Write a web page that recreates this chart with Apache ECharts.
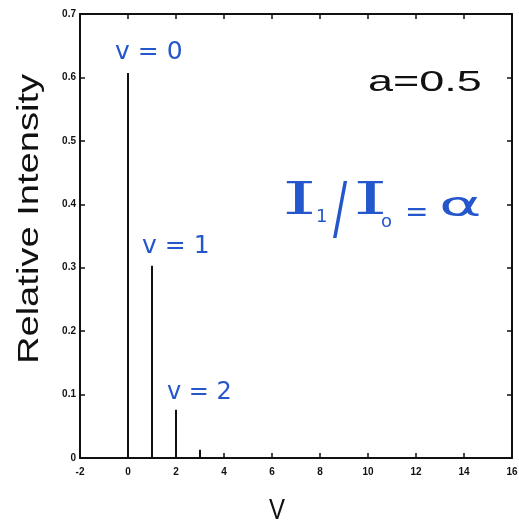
<!DOCTYPE html>
<html><head><meta charset="utf-8">
<script src="https://cdn.jsdelivr.net/npm/echarts@6/dist/echarts.min.js"></script>
<style>html,body{margin:0;padding:0;background:#fff}#c{width:519px;height:524px}</style>
</head><body><div id="c"></div>
<script>
const vibLevels = [0, 1, 2, 3, 4];
const intensities = [0.607, 0.303, 0.076, 0.013, 0.002];
const xTicks = [-2, 0, 2, 4, 6, 8, 10, 12, 14, 16];
const yTicks = [0, 0.1, 0.2, 0.3, 0.4, 0.5, 0.6, 0.7];
const levelLabels = ['v = 0', 'v = 1', 'v = 2'];

const chart = echarts.init(document.getElementById('c'), null, {renderer: 'canvas'});
const axisCommon = {
  axisLine: {show: true, onZero: false, lineStyle: {color: '#111', width: 2}},
  axisTick: {show: true, inside: true, length: 5, lineStyle: {color: '#111', width: 1.5}},
  splitLine: {show: false}
};
const labelStyle = {color: '#111', fontFamily: 'Liberation Sans', fontWeight: 'bold', fontSize: 10};
const blue = '#2456cc';
function hand(text, left, top, size, extra, family) {
  return Object.assign({type: 'text', left: left, top: top, style: {
    text: text, fontFamily: family || 'DejaVu Sans', fontSize: size, fill: blue}}, extra || {});
}

chart.setOption({
  animation: false,
  backgroundColor: '#fff',
  grid: {left: 80, right: 7, top: 14, bottom: 66, outerBoundsMode: 'none', containLabel: false},
  xAxis: [
    Object.assign({type: 'value', min: xTicks[0], max: xTicks[xTicks.length - 1], interval: 2, position: 'bottom',
      axisLabel: Object.assign({margin: 9}, labelStyle)}, axisCommon),
    Object.assign({type: 'value', min: xTicks[0], max: xTicks[xTicks.length - 1], interval: 2, position: 'top',
      axisLabel: {show: false}}, axisCommon)
  ],
  yAxis: [
    Object.assign({type: 'value', min: yTicks[0], max: yTicks[yTicks.length - 1], interval: 0.1, position: 'left',
      axisLabel: Object.assign({margin: 4, formatter: v => String(Math.round(v * 10) / 10)}, labelStyle)}, axisCommon),
    Object.assign({type: 'value', min: yTicks[0], max: yTicks[yTicks.length - 1], interval: 0.1, position: 'right',
      axisLabel: {show: false}}, axisCommon)
  ],
  series: [{
    type: 'bar',
    barWidth: 2,
    itemStyle: {color: '#111'},
    data: vibLevels.map((v, i) => [v, intensities[i]])
  }],
  graphic: [
    {type: 'text', x: 30, y: 219, rotation: Math.PI / 2, scaleX: 1.27, scaleY: 1,
      style: {text: 'Relative Intensity', fontFamily: 'Liberation Sans', fontSize: 30, fill: '#111',
        align: 'center', verticalAlign: 'middle'}},
    {type: 'text', x: 277, y: 511, scaleX: 0.8, scaleY: 1,
      style: {text: 'V', fontFamily: 'Liberation Sans', fontSize: 30, fill: '#111',
        align: 'center', verticalAlign: 'middle'}},
    {type: 'text', x: 368, y: 83, scaleX: 1.55, scaleY: 1,
      style: {text: 'a=0.5', fontFamily: 'Liberation Sans', fontSize: 29, fill: '#111',
        align: 'left', verticalAlign: 'middle'}},
    hand(levelLabels[0], 115, 40, 25),
    hand(levelLabels[1], 142, 234, 25),
    hand(levelLabels[2], 167, 381, 24),
    hand('I', 282, 181, 44, {scaleX: 2.0}, 'DejaVu Serif'),
    hand('1', 316, 208, 18),
    hand('/', 333, 179, 70, {scaleX: 0.6}),
    hand('I', 353, 181, 44, {scaleX: 2.0}, 'DejaVu Serif'),
    hand('o', 381, 213, 18),
    hand('=', 405, 200, 28),
    hand('α', 439, 190, 34, {scaleX: 1.9})
  ]
});
</script></body></html>
